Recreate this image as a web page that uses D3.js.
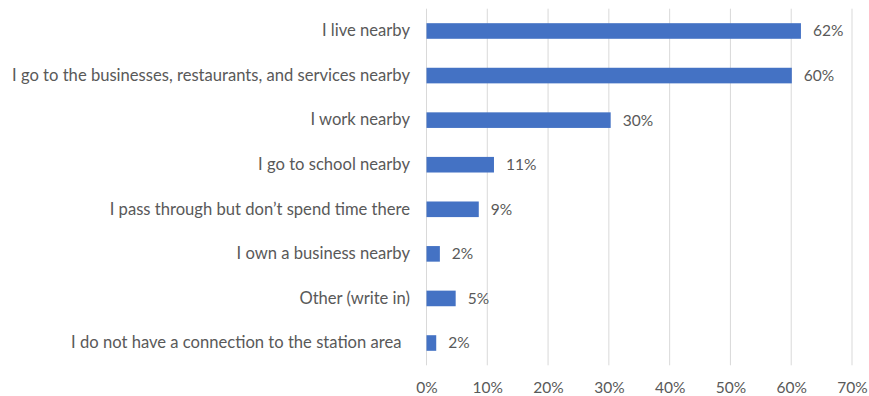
<!DOCTYPE html>
<html>
<head>
<meta charset="utf-8">
<script src="https://cdn.jsdelivr.net/npm/d3@7"></script>
<style>
  html, body { margin: 0; padding: 0; background: #fff; }
  svg text { font-family: Lato, "Open Sans", sans-serif; fill: #595959; white-space: pre; }
</style>
</head>
<body>
<svg id="chart" width="869" height="396"></svg>
<script>
// Survey responses: connection to the station area
const categories = [
  "I live nearby",
  "I go to the businesses, restaurants, and services nearby",
  "I work nearby",
  "I go to school nearby",
  "I pass through but don\u2019t spend time there",
  "I own a business nearby",
  "Other (write in)",
  "I do not have a connection to the station area  "
];
const values = [61.6, 60.1, 30.3, 11.1, 8.6, 2.2, 4.8, 1.6];
const xTicks = [0, 10, 20, 30, 40, 50, 60, 70];

const LABEL_FONT = "16.6px";
const NUM_FONT = "15.5px";
const svg = d3.select("#chart");
const margin = { left: 426.5, right: 17, top: 8.7, bottom: 30.7 };
const W = 869, H = 396;

const x = d3.scaleLinear().domain([0, 70]).range([margin.left, W - margin.right]);
const y = d3.scaleBand().domain(categories).range([margin.top, H - margin.bottom]).paddingInner(0.65).paddingOuter(0.325);

// vertical gridlines
svg.append("g").selectAll("line").data(xTicks).join("line")
  .attr("x1", d => x(d)).attr("x2", d => x(d))
  .attr("y1", margin.top).attr("y2", H - margin.bottom)
  .attr("stroke", "#d9d9d9").attr("stroke-width", 1);

// x axis labels
const xAxis = d3.axisBottom(x).tickValues(xTicks).tickFormat(d => d + "%").tickSize(0).tickPadding(0);
const gx = svg.append("g").attr("transform", `translate(0,${H - margin.bottom})`).call(xAxis);
gx.select(".domain").remove();
gx.selectAll("text").attr("dy", null).attr("y", 28).style("font-size", NUM_FONT).attr("fill", "#595959");

// category labels
const yAxis = d3.axisLeft(y).tickSize(0).tickPadding(0);
const gy = svg.append("g").attr("transform", `translate(410,0)`).call(yAxis);
gy.select(".domain").remove();
gy.selectAll("text").style("font-size", LABEL_FONT).attr("fill", "#595959");

// bars
svg.append("g").selectAll("rect").data(values).join("rect")
  .attr("x", x(0))
  .attr("y", (d, i) => y(categories[i]))
  .attr("width", d => x(d) - x(0))
  .attr("height", y.bandwidth())
  .attr("fill", "#4472c4");

// value labels
svg.append("g").selectAll("text").data(values).join("text")
  .attr("x", d => x(d) + 12)
  .attr("y", (d, i) => y(categories[i]) + y.bandwidth() / 2)
  .attr("dy", "0.35em")
  .style("font-size", NUM_FONT)
  .text(d => Math.round(d) + "%");
</script>
</body>
</html>
